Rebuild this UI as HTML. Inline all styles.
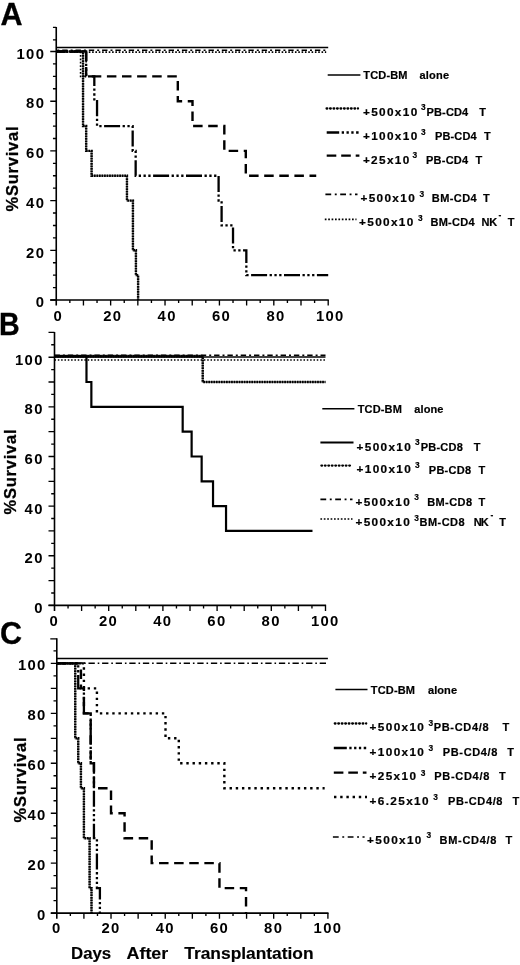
<!DOCTYPE html>
<html><head><meta charset="utf-8"><title>Survival after transplantation</title>
<style>
html,body{margin:0;padding:0;background:#fff}
svg{display:block}
text{font-family:"Liberation Sans",Arial,Helvetica,sans-serif;font-weight:bold;fill:#000}
.tk{font-size:14.0px;letter-spacing:1.27px}
.lg{font-size:11px;stroke:#000;stroke-width:0.2px}
.dg{letter-spacing:1.27px}
.sp{font-size:8.4px;stroke:#000;stroke-width:0.15px}
.yl{font-size:16.5px;stroke:#000;stroke-width:0.28px}
.xl{font-size:16.5px;stroke:#000;stroke-width:0.15px}
.pl{font-size:30.5px;stroke:#000;stroke-width:0.3px}
path{fill:none;stroke:#000}
</style></head><body>
<svg width="520" height="965" viewBox="0 0 520 965">
<rect width="520" height="965" fill="#fff"/>

<g id="panelA">
<path d="M56.25 26.9 V305.6 M50.25 300 H328.8" stroke-width="1.6"/>
<path d="M50.25 300.0 H56.25 M52.95 287.57 H56.25 M52.95 275.15 H56.25 M52.95 262.73 H56.25 M50.25 250.3 H56.25 M52.95 237.88 H56.25 M52.95 225.45 H56.25 M52.95 213.03 H56.25 M50.25 200.6 H56.25 M52.95 188.18 H56.25 M52.95 175.75 H56.25 M52.95 163.33 H56.25 M50.25 150.9 H56.25 M52.95 138.47 H56.25 M52.95 126.05 H56.25 M52.95 113.62 H56.25 M50.25 101.2 H56.25 M52.95 88.78 H56.25 M52.95 76.35 H56.25 M52.95 63.93 H56.25 M50.25 51.5 H56.25 M52.95 39.8 H56.25 M52.95 27.4 H56.25 M69.85 303.0 V300 M83.44 305.6 V300 M97.04 303.0 V300 M110.64 305.6 V300 M124.24 303.0 V300 M137.84 305.6 V300 M151.43 303.0 V300 M165.03 305.6 V300 M178.63 303.0 V300 M192.22 305.6 V300 M205.82 303.0 V300 M219.42 305.6 V300 M233.02 303.0 V300 M246.62 305.6 V300 M260.21 303.0 V300 M273.81 305.6 V300 M287.41 303.0 V300 M301.0 305.6 V300 M314.6 303.0 V300 M328.2 305.6 V300" stroke-width="1.35"/>
<text x="35.7" y="307.2" class="tk" textLength="9.6" lengthAdjust="spacingAndGlyphs">0</text>
<text x="26.1" y="257.5" class="tk" textLength="19.2" lengthAdjust="spacingAndGlyphs">20</text>
<text x="26.1" y="207.8" class="tk" textLength="19.2" lengthAdjust="spacingAndGlyphs">40</text>
<text x="26.1" y="158.1" class="tk" textLength="19.2" lengthAdjust="spacingAndGlyphs">60</text>
<text x="26.1" y="108.4" class="tk" textLength="19.2" lengthAdjust="spacingAndGlyphs">80</text>
<text x="16.5" y="58.7" class="tk" textLength="28.8" lengthAdjust="spacingAndGlyphs">100</text>
<text x="53.6" y="321.1" class="tk" textLength="9.6" lengthAdjust="spacingAndGlyphs">0</text>
<text x="103.2" y="321.1" class="tk" textLength="19.2" lengthAdjust="spacingAndGlyphs">20</text>
<text x="157.6" y="321.1" class="tk" textLength="19.2" lengthAdjust="spacingAndGlyphs">40</text>
<text x="212.0" y="321.1" class="tk" textLength="19.2" lengthAdjust="spacingAndGlyphs">60</text>
<text x="266.4" y="321.1" class="tk" textLength="19.2" lengthAdjust="spacingAndGlyphs">80</text>
<text x="315.9" y="321.1" class="tk" textLength="28.8" lengthAdjust="spacingAndGlyphs">100</text>
<text x="0.5" y="25" class="pl">A</text>
<text transform="translate(17.5 169) rotate(-90)" text-anchor="middle" class="yl" textLength="85" lengthAdjust="spacing">%Survival</text>
<path d="M56.25 47.4 H328.2" stroke-width="1.5" />
<path d="M56.25 50.3 H326.2" stroke-width="1.6" stroke-dasharray="5.4 3 2 2.9" stroke-dashoffset="7.35"/>
<path d="M56.25 52.2 H80.59 V76.35 H86.16 V52.5" stroke-width="1.6" stroke-dasharray="1.7 1.7" />
<path d="M86.16 52.1 H326.2" stroke-width="1.8" stroke-dasharray="1.6 1.725" stroke-dashoffset="0.69"/>
<path d="M56.25 51.5 L83.04 51.5 L83.04 126.05 L86.16 126.05 L86.16 150.9 L91.6 150.9 L91.6 175.75 L126.96 175.75 L126.96 200.6 L132.94 200.6 L132.94 250.3 L135.93 250.3 L135.93 275.15 L138.11 275.15 L138.11 300.0" stroke-width="2.0" stroke-opacity="0.4"/>
<path d="M56.25 51.5 L83.04 51.5 L83.04 126.05 L86.16 126.05 L86.16 150.9 L91.6 150.9 L91.6 175.75 L126.96 175.75 L126.96 200.6 L132.94 200.6 L132.94 250.3 L135.93 250.3 L135.93 275.15 L138.11 275.15 L138.11 300.0" stroke-width="2.4" stroke-dasharray="1.75 0.78" />
<path d="M56.25 51.5 L86.16 51.5 L86.16 76.35 L94.32 76.35 L94.32 101.2 L97.04 101.2 L97.04 126.05 L132.67 126.05 L132.67 150.9 L135.66 150.9 L135.66 175.75 L218.6 175.75 L218.6 200.6 L221.6 200.6 L221.6 225.45 L233.02 225.45 L233.02 250.3 L246.34 250.3 L246.34 275.15 L328.2 275.15" stroke-width="2.3" stroke-dasharray="16 2.5 2.3 2.5 2.3 2.5 2.3 2.5" stroke-dashoffset="9.2"/>
<path d="M56.25 51.5 L86.16 51.5 L86.16 76.35 L177.81 76.35 L177.81 101.2 L192.5 101.2 L192.5 126.05 L224.32 126.05 L224.32 150.9 L245.8 150.9 L245.8 175.75 L316.23 175.75" stroke-width="2.4" stroke-dasharray="9.5 5.6" />
<path d="M327.7 75 H360.4" stroke-width="1.5" />
<text x="363.3" y="79.2" class="lg" textLength="44.2" lengthAdjust="spacing">TCD-BM</text>
<text x="419.5" y="79.2" class="lg" textLength="29.6" lengthAdjust="spacing">alone</text>
<path d="M326.6 108.5 H358" stroke-width="2.3" stroke-dasharray="0.7 2.78" stroke-linecap="round" />
<text x="362.9" y="116.4" class="lg dg" textLength="55.7" lengthAdjust="spacingAndGlyphs">+500x10</text>
<text x="421.1" y="110.3" class="sp">3</text>
<text x="426.5" y="116.2" class="lg" textLength="41.7" lengthAdjust="spacing">PB-CD4</text>
<text x="479.2" y="116.2" class="lg">T</text>
<path d="M326.7 132.5 H358.6" stroke-width="2.3" stroke-dasharray="16 2.5 2.3 2.5 2.3 2.5 2.3 2.5" stroke-dashoffset="3.5"/>
<text x="362.9" y="139.9" class="lg dg" textLength="55.7" lengthAdjust="spacingAndGlyphs">+100x10</text>
<text x="421.1" y="134.5" class="sp">3</text>
<text x="435" y="139.9" class="lg" textLength="41.6" lengthAdjust="spacing">PB-CD4</text>
<text x="484" y="139.9" class="lg">T</text>
<path d="M326.7 155.6 H359.4" stroke-width="2.2" stroke-dasharray="9.6 4.9" />
<text x="362.9" y="163.8" class="lg dg" textLength="47.7" lengthAdjust="spacingAndGlyphs">+25x10</text>
<text x="412.5" y="157.5" class="sp">3</text>
<text x="425.9" y="163.8" class="lg" textLength="42.3" lengthAdjust="spacing">PB-CD4</text>
<text x="475.6" y="163.8" class="lg">T</text>
<path d="M325.4 194.4 H357.5" stroke-width="1.6" stroke-dasharray="5.8 3.6 1.9 3.5" />
<text x="360.4" y="201.7" class="lg dg" textLength="55.7" lengthAdjust="spacingAndGlyphs">+500x10</text>
<text x="419.4" y="196.5" class="sp">3</text>
<text x="431.8" y="201.7" class="lg" textLength="44.8" lengthAdjust="spacing">BM-CD4</text>
<text x="483" y="201.7" class="lg">T</text>
<path d="M324.8 219.4 H356.5" stroke-width="1.6" stroke-dasharray="1.7 1.7" />
<text x="359.0" y="226.4" class="lg dg" textLength="55.7" lengthAdjust="spacingAndGlyphs">+500x10</text>
<text x="417.9" y="220.6" class="sp">3</text>
<text x="430.5" y="226.4" class="lg" textLength="44.0" lengthAdjust="spacing">BM-CD4</text>
<text x="481.5" y="226.4" class="lg" textLength="15.7" lengthAdjust="spacing">NK</text>
<text x="498.6" y="217.8" class="sp">-</text>
<text x="507.7" y="226.4" class="lg">T</text>
</g>
<g id="panelB">
<path d="M54.5 331.88 V611.0 M48.5 605.4 H326.1" stroke-width="1.6"/>
<path d="M48.5 605.4 H54.5 M51.2 592.99 H54.5 M48.5 580.58 H54.5 M51.2 568.17 H54.5 M48.5 555.76 H54.5 M51.2 543.35 H54.5 M48.5 530.94 H54.5 M51.2 518.53 H54.5 M48.5 506.12 H54.5 M51.2 493.71 H54.5 M48.5 481.3 H54.5 M51.2 468.89 H54.5 M48.5 456.48 H54.5 M51.2 444.07 H54.5 M48.5 431.66 H54.5 M51.2 419.25 H54.5 M48.5 406.84 H54.5 M51.2 394.43 H54.5 M48.5 382.02 H54.5 M51.2 369.61 H54.5 M48.5 357.2 H54.5 M51.2 344.79 H54.5 M48.5 332.38 H54.5 M68.05 608.4 V605.4 M81.6 611.0 V605.4 M95.15 608.4 V605.4 M108.7 611.0 V605.4 M122.25 608.4 V605.4 M135.8 611.0 V605.4 M149.35 608.4 V605.4 M162.9 611.0 V605.4 M176.45 608.4 V605.4 M190.0 611.0 V605.4 M203.55 608.4 V605.4 M217.1 611.0 V605.4 M230.65 608.4 V605.4 M244.2 611.0 V605.4 M257.75 608.4 V605.4 M271.3 611.0 V605.4 M284.85 608.4 V605.4 M298.4 611.0 V605.4 M311.95 608.4 V605.4 M325.5 611.0 V605.4" stroke-width="1.35"/>
<text x="34.2" y="612.8" class="tk" textLength="9.6" lengthAdjust="spacingAndGlyphs">0</text>
<text x="24.6" y="563.2" class="tk" textLength="19.2" lengthAdjust="spacingAndGlyphs">20</text>
<text x="24.6" y="513.5" class="tk" textLength="19.2" lengthAdjust="spacingAndGlyphs">40</text>
<text x="24.6" y="463.9" class="tk" textLength="19.2" lengthAdjust="spacingAndGlyphs">60</text>
<text x="24.6" y="414.2" class="tk" textLength="19.2" lengthAdjust="spacingAndGlyphs">80</text>
<text x="15.0" y="364.6" class="tk" textLength="28.8" lengthAdjust="spacingAndGlyphs">100</text>
<text x="49.5" y="626.0" class="tk" textLength="9.6" lengthAdjust="spacingAndGlyphs">0</text>
<text x="99.0" y="626.0" class="tk" textLength="19.2" lengthAdjust="spacingAndGlyphs">20</text>
<text x="153.2" y="626.0" class="tk" textLength="19.2" lengthAdjust="spacingAndGlyphs">40</text>
<text x="207.3" y="626.0" class="tk" textLength="19.2" lengthAdjust="spacingAndGlyphs">60</text>
<text x="261.6" y="626.0" class="tk" textLength="19.2" lengthAdjust="spacingAndGlyphs">80</text>
<text x="310.9" y="626.0" class="tk" textLength="28.8" lengthAdjust="spacingAndGlyphs">100</text>
<text x="-1.1" y="335" class="pl" textLength="20.7" lengthAdjust="spacingAndGlyphs">B</text>
<text transform="translate(15.5 472) rotate(-90)" text-anchor="middle" class="yl" textLength="85" lengthAdjust="spacing">%Survival</text>
<path d="M54.5 356.9 H325.5" stroke-width="1.5" />
<path d="M54.5 355.2 H325.5" stroke-width="1.6" stroke-dasharray="5.4 3 2 2.9" />
<path d="M54.5 360.0 H325.5" stroke-width="1.4" stroke-dasharray="1.5 1.82" />
<path d="M54.5 356.1 H202.74" stroke-width="2.6" stroke-opacity="0.75" />
<path d="M54.5 356.2 H202.74 V382.02 H325.5" stroke-width="2.0" stroke-opacity="0.4"/>
<path d="M54.5 356.2 H202.74 V382.02 H325.5" stroke-width="2.4" stroke-dasharray="1.75 0.78" />
<path d="M54.5 356.2 L86.48 356.2 L86.48 382.02 L91.36 382.02 L91.36 406.84 L182.68 406.84 L182.68 431.66 L191.63 431.66 L191.63 456.48 L201.65 456.48 L201.65 481.3 L213.03 481.3 L213.03 506.12 L226.04 506.12 L226.04 530.94 L312.49 530.94" stroke-width="2.2" stroke-linejoin="miter"/>
<path d="M322.3 408.8 H354.4" stroke-width="1.5" />
<text x="357.7" y="413.3" class="lg" textLength="44.2" lengthAdjust="spacing">TCD-BM</text>
<text x="414.3" y="413.3" class="lg" textLength="29.1" lengthAdjust="spacing">alone</text>
<path d="M320.4 442.5 H353.5" stroke-width="2.2" />
<text x="356.5" y="450.8" class="lg dg" textLength="55.7" lengthAdjust="spacingAndGlyphs">+500x10</text>
<text x="415.0" y="444.6" class="sp">3</text>
<text x="420.8" y="451.1" class="lg" textLength="42.0" lengthAdjust="spacing">PB-CD8</text>
<text x="473.8" y="451.1" class="lg">T</text>
<path d="M321.4 465.6 H352.5" stroke-width="2.3" stroke-dasharray="0.7 2.78" stroke-linecap="round" />
<text x="356.5" y="473.1" class="lg dg" textLength="55.7" lengthAdjust="spacingAndGlyphs">+100x10</text>
<text x="415.0" y="467.7" class="sp">3</text>
<text x="428.8" y="473.5" class="lg" textLength="42.3" lengthAdjust="spacing">PB-CD8</text>
<text x="478.5" y="473.5" class="lg">T</text>
<path d="M320.4 499.4 H352.5" stroke-width="1.6" stroke-dasharray="5.8 3.6 1.9 3.5" />
<text x="355.4" y="506.3" class="lg dg" textLength="55.7" lengthAdjust="spacingAndGlyphs">+500x10</text>
<text x="414.3" y="500" class="sp">3</text>
<text x="427.2" y="506" class="lg" textLength="44.8" lengthAdjust="spacing">BM-CD8</text>
<text x="478.5" y="506" class="lg">T</text>
<path d="M320.4 519 H352.5" stroke-width="1.6" stroke-dasharray="1.7 1.7" />
<text x="355.4" y="526" class="lg dg" textLength="55.7" lengthAdjust="spacingAndGlyphs">+500x10</text>
<text x="414.3" y="520.8" class="sp">3</text>
<text x="419.6" y="526.1" class="lg" textLength="45.0" lengthAdjust="spacing">BM-CD8</text>
<text x="473.8" y="526.1" class="lg" textLength="15.0" lengthAdjust="spacing">NK</text>
<text x="490.6" y="518.4" class="sp">-</text>
<text x="499.2" y="526.1" class="lg">T</text>
</g>
<g id="panelC">
<path d="M56.8 638.3 V918.7 M50.8 913.1 H328.5" stroke-width="1.6"/>
<path d="M50.8 913.1 H56.8 M53.5 900.62 H56.8 M50.8 888.13 H56.8 M53.5 875.64 H56.8 M50.8 863.16 H56.8 M53.5 850.68 H56.8 M50.8 838.19 H56.8 M53.5 825.71 H56.8 M50.8 813.22 H56.8 M53.5 800.74 H56.8 M50.8 788.25 H56.8 M53.5 775.77 H56.8 M50.8 763.28 H56.8 M53.5 750.8 H56.8 M50.8 738.31 H56.8 M53.5 725.83 H56.8 M50.8 713.34 H56.8 M53.5 700.86 H56.8 M50.8 688.37 H56.8 M53.5 675.88 H56.8 M50.8 663.4 H56.8 M53.5 650.9 H56.8 M50.3 638.8 H56.8 M70.35 916.1 V913.1 M83.91 918.7 V913.1 M97.47 916.1 V913.1 M111.02 918.7 V913.1 M124.57 916.1 V913.1 M138.13 918.7 V913.1 M151.69 916.1 V913.1 M165.24 918.7 V913.1 M178.79 916.1 V913.1 M192.35 918.7 V913.1 M205.9 916.1 V913.1 M219.46 918.7 V913.1 M233.01 916.1 V913.1 M246.57 918.7 V913.1 M260.12 916.1 V913.1 M273.68 918.7 V913.1 M287.23 916.1 V913.1 M300.79 918.7 V913.1 M314.34 916.1 V913.1 M327.9 918.7 V913.1" stroke-width="1.35"/>
<text x="37.1" y="920.0" class="tk" textLength="9.6" lengthAdjust="spacingAndGlyphs">0</text>
<text x="27.5" y="870.1" class="tk" textLength="19.2" lengthAdjust="spacingAndGlyphs">20</text>
<text x="27.5" y="820.1" class="tk" textLength="19.2" lengthAdjust="spacingAndGlyphs">40</text>
<text x="27.5" y="770.2" class="tk" textLength="19.2" lengthAdjust="spacingAndGlyphs">60</text>
<text x="27.5" y="720.2" class="tk" textLength="19.2" lengthAdjust="spacingAndGlyphs">80</text>
<text x="17.9" y="670.3" class="tk" textLength="28.8" lengthAdjust="spacingAndGlyphs">100</text>
<text x="52.0" y="933.3" class="tk" textLength="9.6" lengthAdjust="spacingAndGlyphs">0</text>
<text x="101.5" y="933.3" class="tk" textLength="19.2" lengthAdjust="spacingAndGlyphs">20</text>
<text x="155.7" y="933.3" class="tk" textLength="19.2" lengthAdjust="spacingAndGlyphs">40</text>
<text x="209.9" y="933.3" class="tk" textLength="19.2" lengthAdjust="spacingAndGlyphs">60</text>
<text x="264.1" y="933.3" class="tk" textLength="19.2" lengthAdjust="spacingAndGlyphs">80</text>
<text x="313.6" y="933.3" class="tk" textLength="28.8" lengthAdjust="spacingAndGlyphs">100</text>
<text x="0.1" y="643.8" class="pl">C</text>
<text transform="translate(26.3 780) rotate(-90)" text-anchor="middle" class="yl" textLength="85" lengthAdjust="spacing">%Survival</text>
<path d="M56.8 658.6 H327.9" stroke-width="1.5" />
<path d="M56.8 663.1999999999999 H327.9" stroke-width="1.45" stroke-dasharray="6.3 2.9 1.6 2.8" stroke-dashoffset="9.1"/>
<path d="M56.8 663.4 L83.91 663.4 L83.91 688.37 L96.92 688.37 L96.92 713.34 L165.51 713.34 L165.51 738.31 L178.79 738.31 L178.79 763.28 L224.34 763.28 L224.34 788.25 L324.65 788.25" stroke-width="2.4" stroke-dasharray="2.4 3.8" />
<path d="M56.8 663.4 L80.93 663.4 L80.93 688.37 L83.91 688.37 L83.91 713.34 L90.69 713.34 L90.69 763.28 L93.94 763.28 L93.94 788.25 L111.02 788.25 L111.02 813.22 L124.57 813.22 L124.57 838.19 L151.69 838.19 L151.69 863.16 L219.46 863.16 L219.46 888.13 L246.03 888.13 L246.03 913.1" stroke-width="2.4" stroke-dasharray="9.5 5.6" />
<path d="M56.8 663.4 L78.22 663.4 L78.22 688.37 L83.91 688.37 L83.91 713.34 L90.69 713.34 L90.69 763.28 L93.94 763.28 L93.94 838.19 L96.92 838.19 L96.92 888.13 L99.9 888.13 L99.9 913.1" stroke-width="2.3" stroke-dasharray="16 2.5 2.3 2.5 2.3 2.5 2.3 2.5" />
<path d="M56.8 663.4 L75.23 663.4 L75.23 738.31 L78.22 738.31 L78.22 763.28 L80.93 763.28 L80.93 788.25 L83.91 788.25 L83.91 838.19 L89.6 838.19 L89.6 888.13 L91.5 888.13 L91.5 913.1" stroke-width="2.0" stroke-opacity="0.4"/>
<path d="M56.8 663.4 L75.23 663.4 L75.23 738.31 L78.22 738.31 L78.22 763.28 L80.93 763.28 L80.93 788.25 L83.91 788.25 L83.91 838.19 L89.6 838.19 L89.6 888.13 L91.5 888.13 L91.5 913.1" stroke-width="2.4" stroke-dasharray="1.75 0.78" />
<path d="M335.4 689.4 H367.5" stroke-width="1.5" />
<text x="370.8" y="693.8" class="lg" textLength="44.2" lengthAdjust="spacing">TCD-BM</text>
<text x="428" y="693.8" class="lg" textLength="29.0" lengthAdjust="spacing">alone</text>
<path d="M334.8 723.5 H366.2" stroke-width="2.3" stroke-dasharray="0.7 2.78" stroke-linecap="round" />
<text x="369.6" y="731.2" class="lg dg" textLength="55.7" lengthAdjust="spacingAndGlyphs">+500x10</text>
<text x="428.5" y="725.8" class="sp">3</text>
<text x="433.7" y="731" class="lg" textLength="55.0" lengthAdjust="spacing">PB-CD4/8</text>
<text x="502.4" y="731" class="lg">T</text>
<path d="M333.8 748 H366.2" stroke-width="2.3" stroke-dasharray="16 2.5 2.3 2.5 2.3 2.5 2.3 2.5" stroke-dashoffset="3"/>
<text x="369.6" y="755.6" class="lg dg" textLength="55.7" lengthAdjust="spacingAndGlyphs">+100x10</text>
<text x="428.5" y="750.7" class="sp">3</text>
<text x="442.8" y="756" class="lg" textLength="54.6" lengthAdjust="spacing">PB-CD4/8</text>
<text x="507.3" y="756" class="lg">T</text>
<path d="M333.8 772.7 H366.5" stroke-width="2.2" stroke-dasharray="9.6 4.9" />
<text x="369.6" y="780.4" class="lg dg" textLength="47.7" lengthAdjust="spacingAndGlyphs">+25x10</text>
<text x="420.7" y="775.5" class="sp">3</text>
<text x="434.3" y="780.2" class="lg" textLength="55.0" lengthAdjust="spacing">PB-CD4/8</text>
<text x="498.9" y="780.2" class="lg">T</text>
<path d="M334 797 H367" stroke-width="2.4" stroke-dasharray="2.4 3.8" />
<text x="369.6" y="804.8" class="lg dg" textLength="60.3" lengthAdjust="spacingAndGlyphs">+6.25x10</text>
<text x="433.3" y="800.2" class="sp">3</text>
<text x="448.1" y="804.7" class="lg" textLength="54.3" lengthAdjust="spacing">PB-CD4/8</text>
<text x="512.6" y="804.7" class="lg">T</text>
<path d="M332.9 837 H364.6" stroke-width="1.6" stroke-dasharray="5.8 3.6 1.9 3.5" />
<text x="367.1" y="843.9" class="lg dg" textLength="55.7" lengthAdjust="spacingAndGlyphs">+500x10</text>
<text x="426.4" y="838.3" class="sp">3</text>
<text x="439.6" y="844.2" class="lg" textLength="56.7" lengthAdjust="spacing">BM-CD4/8</text>
<text x="505.6" y="844.2" class="lg">T</text>
<text x="71.0" y="959.2" class="xl" textLength="40.2" lengthAdjust="spacingAndGlyphs">Days</text>
<text x="126.5" y="959.2" class="xl" textLength="41.8" lengthAdjust="spacingAndGlyphs">After</text>
<text x="184.3" y="959.2" class="xl" textLength="129.3" lengthAdjust="spacingAndGlyphs">Transplantation</text>
</g>
</svg>
</body></html>
